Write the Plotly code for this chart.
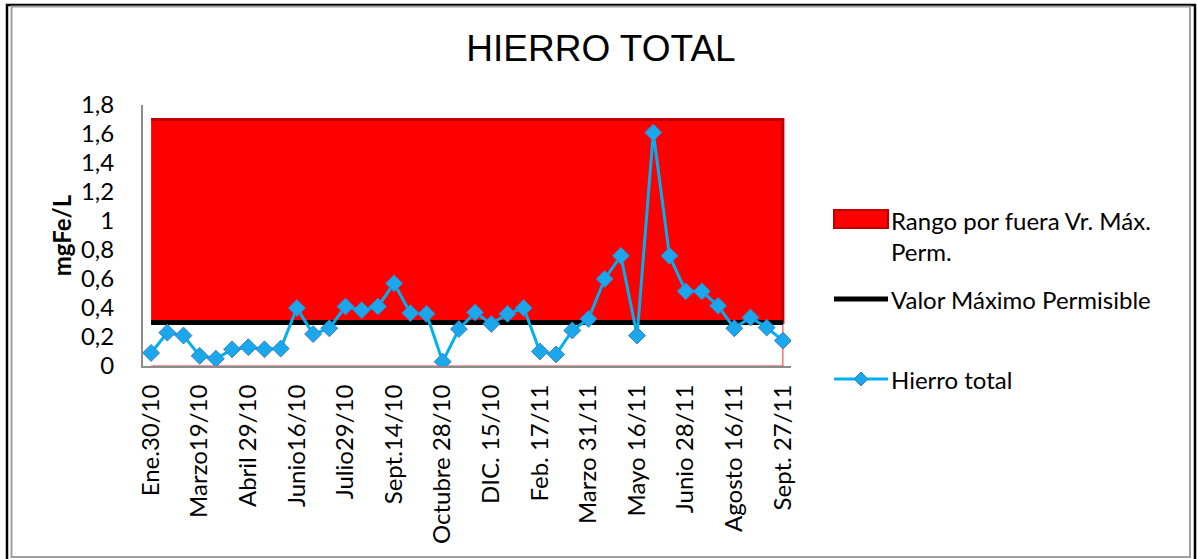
import plotly.graph_objects as go

# 40 muestreos; solo se rotula uno de cada tres
fechas = list(range(40))
etiquetas = [
    "Ene.30/10", "Marzo19/10", "Abril 29/10", "Junio16/10", "Julio29/10",
    "Sept.14/10", "Octubre 28/10", "DIC. 15/10", "Feb. 17/11", "Marzo 31/11",
    "Mayo 16/11", "Junio 28/11", "Agosto 16/11", "Sept. 27/11",
]
pos_etiquetas = fechas[::3]

hierro_total = [
    0.09, 0.23, 0.21, 0.07, 0.05, 0.115, 0.13, 0.115, 0.12, 0.40,
    0.22, 0.26, 0.41, 0.385, 0.41, 0.57, 0.365, 0.36, 0.03, 0.255,
    0.37, 0.29, 0.36, 0.40, 0.10, 0.08, 0.245, 0.325, 0.60, 0.76,
    0.21, 1.61, 0.76, 0.515, 0.515, 0.415, 0.26, 0.335, 0.265, 0.175,
]
valor_max = [0.3] * len(fechas)
limite_rango = [1.7] * len(fechas)
base = [0.0] * len(fechas)

FONT = "Lato"
FS = 24

# area de trazado en pixeles
L, R, T, B = 143, 791, 105, 366


def px(x):
    return (x - L) / (R - L)


def py(y):
    return (B - y) / (B - T)


fig = go.Figure()

# franja blanca bajo el limite (borde rojo fino)
fig.add_trace(go.Scatter(
    x=fechas + fechas[::-1],
    y=valor_max + base[::-1],
    fill="toself", fillcolor="white",
    mode="lines", line=dict(color="#FF3030", width=1),
    hoverinfo="skip", showlegend=False,
))
# rango por fuera del valor maximo permisible
fig.add_trace(go.Scatter(
    x=fechas + fechas[::-1],
    y=limite_rango + valor_max[::-1],
    fill="toself", fillcolor="#FF0000",
    mode="lines", line=dict(color="#C00000", width=3),
    name="Rango por fuera Vr. Máx. Perm.", showlegend=False,
))
fig.add_trace(go.Scatter(
    x=fechas, y=valor_max, mode="lines",
    line=dict(color="black", width=5),
    name="Valor Máximo Permisible", showlegend=False,
))
fig.add_trace(go.Scatter(
    x=fechas, y=hierro_total, mode="lines+markers",
    line=dict(color="#00B0F0", width=3),
    marker=dict(symbol="diamond", size=13, color="#1AA7EC",
                line=dict(color="#3F7FC4", width=1)),
    name="Hierro total", showlegend=False,
))

shapes = [
    # marco exterior
    dict(type="rect", xref="paper", yref="paper",
         x0=px(7), x1=px(1195), y0=py(5), y1=py(562),
         line=dict(color="black", width=2.5)),
    dict(type="rect", xref="paper", yref="paper",
         x0=px(11.5), x1=px(1190), y0=py(6.5), y1=py(557),
         line=dict(color="#A0A0A0", width=2)),
    # leyenda
    dict(type="rect", xref="paper", yref="paper",
         x0=px(834), x1=px(888), y0=py(210), y1=py(228),
         fillcolor="#FF0000", line=dict(color="#C00000", width=2)),
    dict(type="line", xref="paper", yref="paper",
         x0=px(834), x1=px(888), y0=py(299), y1=py(299),
         line=dict(color="black", width=5)),
    dict(type="line", xref="paper", yref="paper",
         x0=px(834), x1=px(888), y0=py(379), y1=py(379),
         line=dict(color="#00B0F0", width=3)),
    dict(type="path", xref="paper", yref="paper",
         path=(f"M{px(861)},{py(372)} L{px(868)},{py(379)} "
               f"L{px(861)},{py(386)} L{px(854)},{py(379)} Z"),
         fillcolor="#1AA7EC", line=dict(color="#3F7FC4", width=1)),
]

leyenda = [
    ("Rango por fuera Vr. Máx.<br>Perm.", 236),
    ("Valor Máximo Permisible", 299),
    ("Hierro total", 379),
]
annotations = [
    dict(text=t, xref="paper", yref="paper", x=px(889), y=py(y),
         xanchor="left", yanchor="middle", align="left", showarrow=False,
         font=dict(family=FONT, size=FS, color="black"))
    for t, y in leyenda
]

fig.update_layout(
    width=1197, height=559,
    paper_bgcolor="white", plot_bgcolor="white",
    margin=dict(l=L, r=1197 - R, t=T, b=559 - B),
    separators=", ",
    title=dict(text="HIERRO TOTAL", x=601 / 1197, xanchor="center",
               y=1 - 48 / 559, yanchor="middle",
               font=dict(family="Liberation Sans", size=37, color="black")),
    font=dict(family=FONT, size=FS, color="black"),
    xaxis=dict(
        range=[-0.5, 39.5], tickmode="array",
        tickvals=pos_etiquetas, ticktext=etiquetas, tickangle=-90,
        showgrid=False, zeroline=False, showline=True,
        linecolor="#8C8C8C", linewidth=2, ticks="", ticklabelstandoff=7,
        tickfont=dict(family=FONT, size=FS),
    ),
    yaxis=dict(
        range=[0, 1.8], dtick=0.2, showgrid=False, zeroline=False,
        showline=True, linecolor="#8C8C8C", linewidth=2, ticks="",
        ticklabelstandoff=22, tickfont=dict(family=FONT, size=FS),
        title=dict(text="<b>mgFe/L</b>", standoff=3,
                   font=dict(family=FONT, size=24)),
    ),
    shapes=shapes,
    annotations=annotations,
)

fig.write_html("out.html", config={"displayModeBar": False},
               post_script="document.body.style.margin='0';")
